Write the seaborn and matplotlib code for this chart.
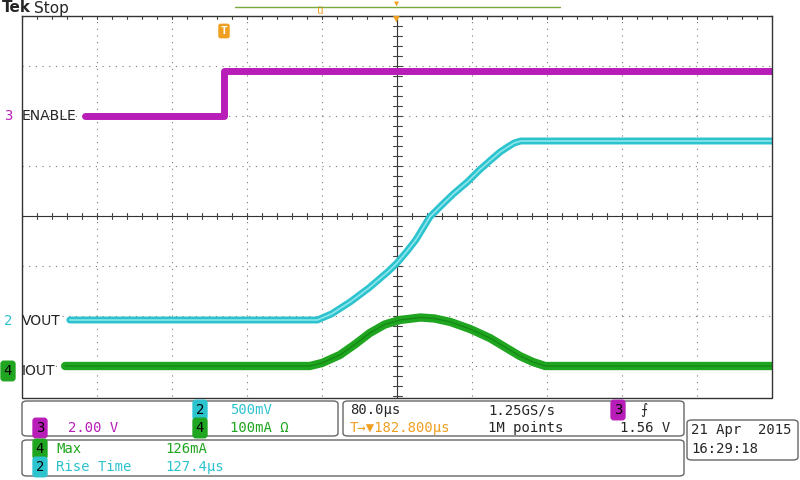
import numpy as np
import pandas as pd
import seaborn as sns
import matplotlib.pyplot as plt
from matplotlib.patches import FancyBboxPatch

# --- data (time in µs) ---
enable_t = [-333, -184.5, -184.5, 400]
enable_v = [0.0, 0.0, 1.8, 1.8]            # volts, 2.00 V/div

vout_t = [-349, -85, -70, -60, -50, -40, -30, -20, -10, 0, 10, 20, 35, 50, 60, 75, 88, 100,
          110, 118, 125, 132, 140, 400]
vout_v = [0.0, 0.0, 0.06, 0.12, 0.18, 0.25, 0.32, 0.4, 0.48, 0.57, 0.68, 0.8, 1.03, 1.17,
          1.26, 1.38, 1.5, 1.6, 1.68, 1.73, 1.77, 1.79, 1.79, 1.79]  # V, 500mV/div

iout_t = [-354, -93, -80, -61, -45, -29, -13, 3, 25, 40, 57, 78, 99, 115, 131, 145, 158, 400]
iout_ma = [0, 0, 6, 22, 43, 66, 83, 92, 97, 95, 88, 74, 56, 38, 20, 8, 0, 0]   # mA, 100mA/div

MAG = '#b81db8'
CYA = '#2cc3cf'
GRN = '#1fa51f'
ORG = '#f0a020'

sns.set_style("white")
plt.rcParams['font.family'] = ['DejaVu Sans Mono', 'DejaVu Sans']

W, H = 800, 480
fig = plt.figure(figsize=(8, 4.8), dpi=100)

def fx(x):
    return x / W

def fy(y):
    return 1 - y / H

ax = fig.add_axes([fx(22), fy(416), fx(772) - fx(22), (416 - 16) / H])

# convert to screen divisions (time 80 µs/div, channel offsets from markers)
df_en = pd.DataFrame({'t': np.array(enable_t) / 80, 'y': np.array(enable_v) / 2.0 + 2.0})
df_vo = pd.DataFrame({'t': np.array(vout_t) / 80, 'y': np.array(vout_v) / 0.5 - 2.08})
df_io = pd.DataFrame({'t': np.array(iout_t) / 80, 'y': np.array(iout_ma) / 100 - 3.0})

kw = dict(x='t', y='y', ax=ax, sort=False, estimator=None)
sns.lineplot(data=df_io, color=GRN, lw=6, **kw)
sns.lineplot(data=df_io, color='#148a14', lw=1, **kw)
sns.lineplot(data=df_vo, color=CYA, lw=5, **kw)
sns.lineplot(data=df_vo, color='#8fe6ec', lw=1.2, **kw)
sns.lineplot(data=df_en, color=MAG, lw=5, **kw)

ax.set_xlim(-5, 5)
ax.set_ylim(-4, 4)
ax.set_xlabel('')
ax.set_ylabel('')
ax.set_xticks([])
ax.set_yticks([])
for s in ax.spines.values():
    s.set_color('#333333')
    s.set_linewidth(1)

# dotted graticule
for i in range(-4, 5):
    ax.axvline(i, color='#777777', lw=0.8, ls=(0, (1, 5)), zorder=0)
for j in range(-3, 4):
    ax.axhline(j, color='#777777', lw=0.8, ls=(0, (1, 5)), zorder=0)
ax.axvline(0, color='#333333', lw=0.8, zorder=0)
ax.axhline(0, color='#333333', lw=0.8, zorder=0)
for k in np.arange(-5, 5.01, 0.2):
    ax.plot([k, k], [-0.06, 0.06], color='#444444', lw=0.8, zorder=0)
    ax.plot([k, k], [3.94, 4.0], color='#444444', lw=0.8, zorder=0)
for k in np.arange(-4, 4.01, 0.2):
    ax.plot([-0.06, 0.06], [k, k], color='#444444', lw=0.8, zorder=0)

# header
fig.text(fx(2), fy(8), 'Tek', fontsize=11, fontweight='bold', va='center', family='DejaVu Sans')
fig.text(fx(34), fy(8), 'Stop', fontsize=11, va='center', family='DejaVu Sans')
fig.add_artist(plt.Line2D([fx(235), fx(560)], [fy(7), fy(7)], color='#7aa83a', lw=1))
fig.text(fx(320), fy(11), 'ü', color=ORG, fontsize=8, ha='center', va='center')
fig.text(fx(396), fy(3), '▼', color=ORG, fontsize=6, ha='center', va='center')
fig.text(fx(396), fy(19), '▼', color=ORG, fontsize=8, ha='center', va='center')
fig.text(fx(224), fy(31), 'T', color='white', fontsize=8, fontweight='bold', ha='center', va='center',
         bbox=dict(boxstyle='round,pad=0.15', fc=ORG, ec=ORG))

# channel labels
def badge(x, y, txt, col, tc='black', fs=10):
    fig.text(fx(x), fy(y), txt, color=tc, fontsize=fs, ha='center', va='center',
             bbox=dict(boxstyle='round,pad=0.2', fc=col, ec=col))

fig.text(fx(8), fy(116), '3', color=MAG, fontsize=10, ha='center', va='center')
fig.text(fx(22), fy(116), 'ENABLE', fontsize=10, va='center', family='DejaVu Sans')
fig.text(fx(8), fy(321), '2', color=CYA, fontsize=10, ha='center', va='center')
fig.text(fx(22), fy(321), 'VOUT', fontsize=10, va='center', family='DejaVu Sans')
badge(8, 371, '4', GRN)
fig.text(fx(22), fy(371), 'IOUT', fontsize=10, va='center', family='DejaVu Sans')

# info boxes
def box(x0, y0, x1, y1):
    fig.add_artist(FancyBboxPatch((fx(x0), fy(y1)), fx(x1 - x0), (y1 - y0) / H,
                                  boxstyle='round,pad=0,rounding_size=0.006',
                                  fc='white', ec='#666666', lw=1, transform=fig.transFigure))

fig.add_artist(plt.Rectangle((0, 0), 1, fy(398), fc='white', ec='none', transform=fig.transFigure))
fig.add_artist(plt.Line2D([fx(22), fx(772)], [fy(398), fy(398)], color='#333333', lw=1))
box(22, 401, 338, 436)
box(343, 401, 684, 436)
box(22, 440, 684, 476)
box(687, 420, 798, 460)

fs = 10
badge(200, 410, '2', CYA)
fig.text(fx(230), fy(410), '500mV', color=CYA, fontsize=fs, va='center')
badge(40, 428, '3', MAG)
fig.text(fx(68), fy(428), '2.00 V', color=MAG, fontsize=fs, va='center')
badge(200, 428, '4', GRN)
fig.text(fx(230), fy(428), '100mA Ω', color=GRN, fontsize=fs, va='center')

fig.text(fx(350), fy(410), '80.0µs', fontsize=fs, va='center')
fig.text(fx(488), fy(410), '1.25GS/s', fontsize=fs, va='center')
fig.text(fx(350), fy(428), 'T→▼182.800µs', color=ORG, fontsize=fs, va='center')
fig.text(fx(488), fy(428), '1M points', fontsize=fs, va='center')
badge(618, 410, '3', MAG)
fig.text(fx(640), fy(410), '⨍', fontsize=fs, va='center', family='DejaVu Sans')
fig.text(fx(620), fy(428), '1.56 V', fontsize=fs, va='center')

badge(40, 449, '4', GRN)
fig.text(fx(56), fy(449), 'Max', color=GRN, fontsize=fs, va='center')
fig.text(fx(165), fy(449), '126mA', color=GRN, fontsize=fs, va='center')
badge(40, 467, '2', CYA)
fig.text(fx(56), fy(467), 'Rise Time', color=CYA, fontsize=fs, va='center')
fig.text(fx(165), fy(467), '127.4µs', color=CYA, fontsize=fs, va='center')

fig.text(fx(691), fy(430), '21 Apr  2015', fontsize=fs, va='center')
fig.text(fx(691), fy(449), '16:29:18', fontsize=fs, va='center')

fig.savefig('out.png', dpi=100)
